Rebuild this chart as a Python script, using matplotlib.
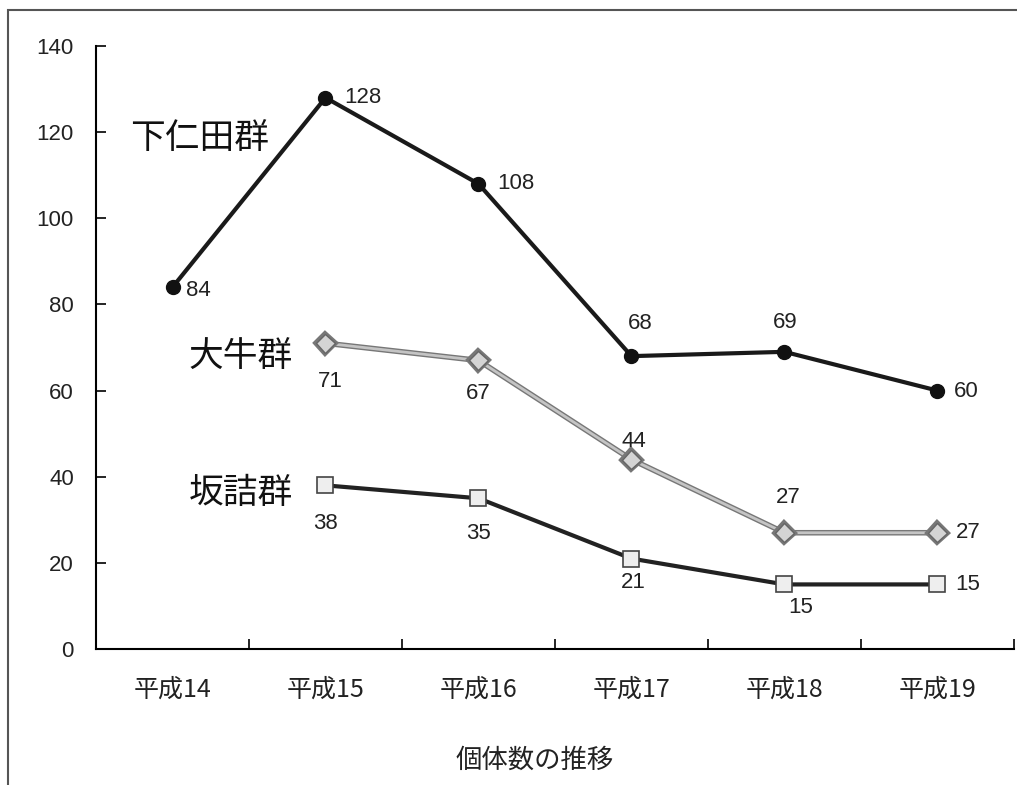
import numpy as np
import matplotlib.pyplot as plt
import matplotlib.patheffects as pe
from matplotlib.patches import Rectangle

plt.rcParams['font.family'] = ['Noto Sans CJK JP', 'DejaVu Sans']

# データ
years = ['平成14', '平成15', '平成16', '平成17', '平成18', '平成19']
shimonita = [84, 128, 108, 68, 69, 60]
oushi = [None, 71, 67, 44, 27, 27]
sakazume = [None, 38, 35, 21, 15, 15]

# ラベルの位置 (点からのずれ, ピクセル)  'r' は右寄せ
shimonita_off = [('r', 13, -3), ('r', 19, 0), ('r', 19, 0), ('c', 9, 33), ('c', 1, 29), ('r', 16, -1)]
oushi_off = [None, ('c', 5, -38), ('c', 0, -33), ('c', 2, 18), ('c', 4, 35), ('r', 18, 0)]
sakazume_off = [None, ('c', 0, -38), ('c', 0, -35), ('c', 2, -24), ('c', 16, -23), ('r', 18, 0)]

fig = plt.figure(figsize=(10.17, 7.85), dpi=100)
ax = fig.add_axes([0.0944, 0.1732, 0.9026, 0.7682])

x = np.arange(len(years))

def series(vals):
    xs = [i for i, v in enumerate(vals) if v is not None]
    ys = [v for v in vals if v is not None]
    return np.array(xs), np.array(ys)

xs, ys = series(shimonita)
ax.plot(xs, ys, color='#1a1a1a', lw=3, marker='o', ms=10,
        mfc='#111111', mec='#111111', zorder=3)

xs2, ys2 = series(oushi)
ax.plot(xs2, ys2, color='#c4c4c4', lw=2.0, marker='D', ms=9.5,
        mfc='#d4d4d4', mec='#666666', mew=1.0, zorder=3,
        path_effects=[pe.Stroke(linewidth=4, foreground='#777777'), pe.Normal()])

xs3, ys3 = series(sakazume)
ax.plot(xs3, ys3, color='#222222', lw=3, marker='s', ms=11,
        mfc='#eeeeee', mec='#444444', mew=1.2, zorder=3)

lab_font = dict(family=['Liberation Sans', 'DejaVu Sans'], fontsize=16, color='#222222')

def put_labels(xs, ys, offs):
    offs = [o for o in offs if o is not None]
    for xi, yi, (kind, dx, dy) in zip(xs, ys, offs):
        ax.annotate(str(yi), (xi, yi), xytext=(dx, dy), textcoords='offset pixels',
                    ha='left' if kind == 'r' else 'center', va='center', **lab_font)

put_labels(xs, ys, shimonita_off)
put_labels(xs2, ys2, oushi_off)
put_labels(xs3, ys3, sakazume_off)

# 群の名前
ax.text(-0.275, 118.6, '下仁田群', fontsize=25, va='center', ha='left', color='#111111')
ax.text(0.105, 67.6, '大牛群', fontsize=25, va='center', ha='left', color='#111111')
ax.text(0.105, 36.2, '坂詰群', fontsize=25, va='center', ha='left', color='#111111')

ax.set_xlim(-0.5, 5.5)
ax.set_ylim(0, 140)
ax.set_yticks(np.arange(0, 141, 20))
ax.set_xticks(x)
ax.set_xticklabels(years)
ax.set_xticks(np.arange(0.5, 6, 1), minor=True)
ax.tick_params(axis='x', which='major', length=0, pad=20, labelsize=18, labelcolor='#222222')
ax.tick_params(axis='x', which='minor', direction='in', length=7, width=1.2)
ax.tick_params(axis='y', direction='in', length=7, width=1.2, pad=16, labelsize=16,
               labelcolor='#222222')
for t in ax.get_yticklabels():
    t.set_fontfamily(['Liberation Sans', 'DejaVu Sans'])

for s in ['top', 'right']:
    ax.spines[s].set_visible(False)
ax.spines['left'].set_linewidth(1.5)
ax.spines['bottom'].set_linewidth(1.5)

fig.text(0.526, 0.032, '個体数の推移', fontsize=19, ha='center', va='center', color='#222222')

# 外枠
fig.add_artist(Rectangle((0.008, -0.1), 1.5, 1.1 - 10 / 785, fill=False,
                         edgecolor='#555555', lw=1.5, transform=fig.transFigure))

fig.savefig('out.png', dpi=100)
